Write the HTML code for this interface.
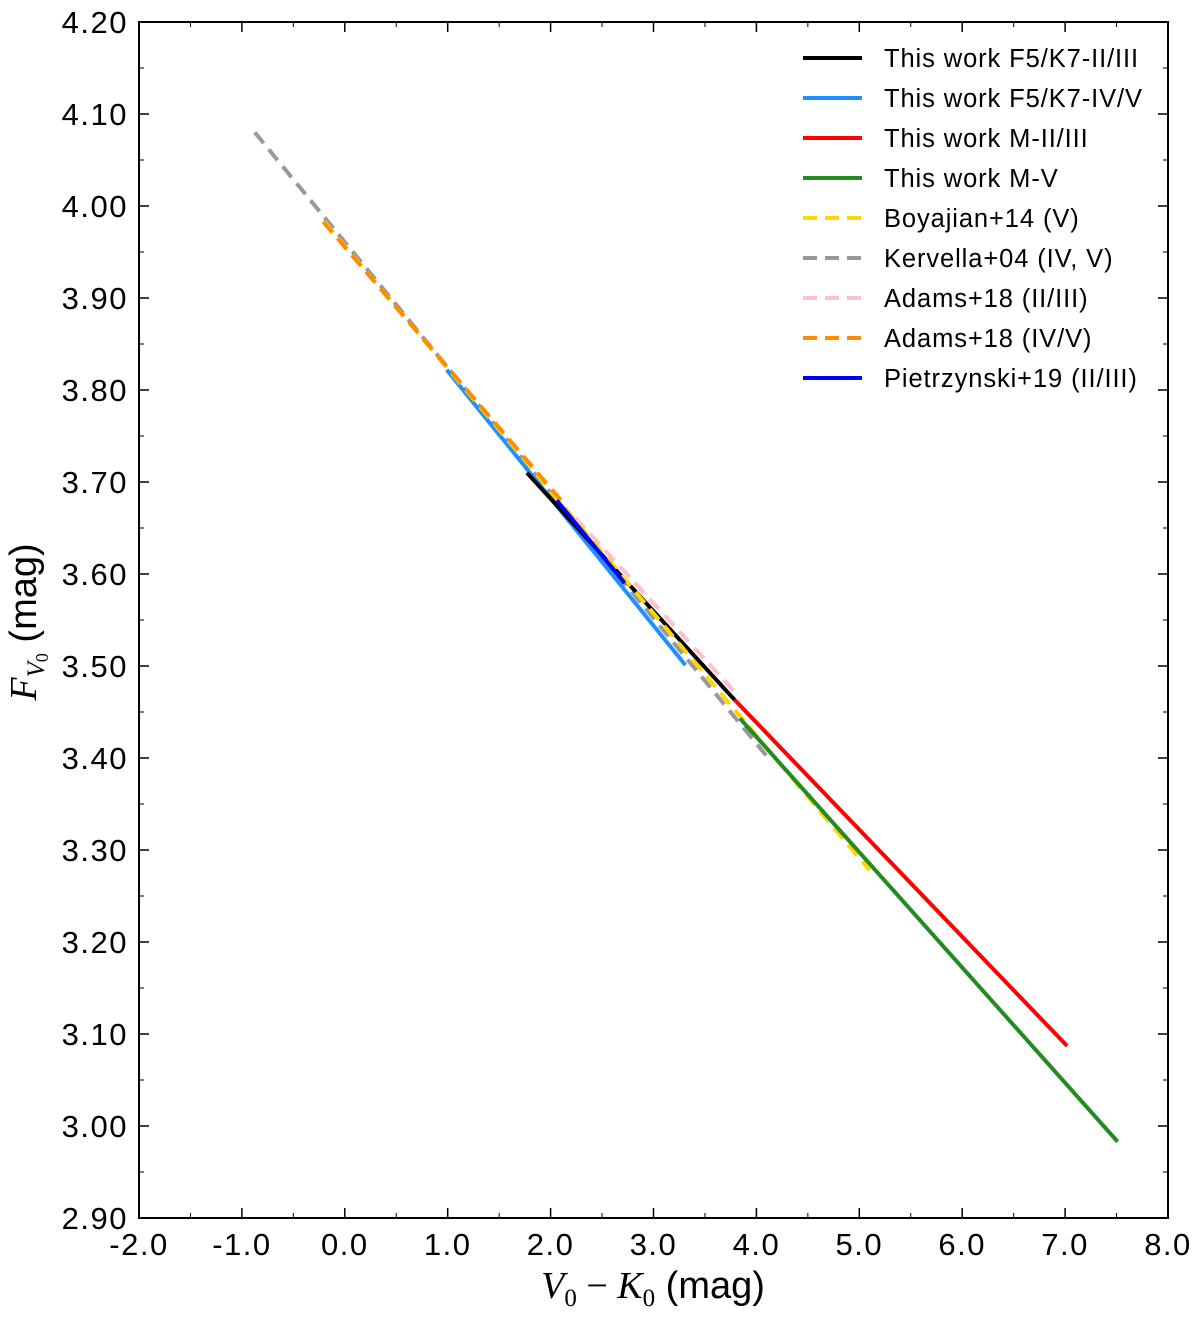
<!DOCTYPE html>
<html><head><meta charset="utf-8"><style>
body{margin:0;background:#fff}
svg{display:block;font-family:"Liberation Sans",sans-serif}
</style></head><body>
<svg id="c" width="1200" height="1319"></svg>
<script>
const xTicks=[-2,-1,0,1,2,3,4,5,6,7,8];
const yTicks=[2.9,3.0,3.1,3.2,3.3,3.4,3.5,3.6,3.7,3.8,3.9,4.0,4.1,4.2];
const seriesNames=["This work F5/K7-II/III","This work F5/K7-IV/V","This work M-II/III","This work M-V","Boyajian+14 (V)","Kervella+04 (IV, V)","Adams+18 (II/III)","Adams+18 (IV/V)","Pietrzynski+19 (II/III)"];
const seriesColors=["#000000","#1e90ff","#ff0000","#228b22","#ffd700","#999999","#ffc0cb","#ff8c00","#0000ff"];
const seriesDash=[false,false,false,false,true,true,true,true,false];
const seriesX=[[1.77,3.79],[0.99,3.31],[3.79,7.02],[3.84,7.51],[-0.2,5.10],[-0.875,4.13],[2.24,3.82],[-0.21,2.14],[2.06,2.72]];
const seriesY=[[3.710,3.463],[3.822,3.501],[3.463,3.087],[3.443,2.983],[3.983,3.278],[4.080,3.398],[3.661,3.468],[3.983,3.675],[3.680,3.590]];
const drawOrder=[5,1,0,6,4,7,8,3,2];
const L=139,R=1168,T=22,B=1218;
const X=v=>L+(v+2)/10*(R-L);
const Y=v=>B-(v-2.9)/1.3*(B-T);
const s=document.getElementById('c');const NS="http://www.w3.org/2000/svg";
function el(t,a,txt){const e=document.createElementNS(NS,t);for(const k in a)e.setAttribute(k,a[k]);if(txt!==undefined)e.textContent=txt;s.appendChild(e);return e;}
drawOrder.forEach(i=>{
 const e=el('line',{x1:X(seriesX[i][0]),y1:Y(seriesY[i][0]),x2:X(seriesX[i][1]),y2:Y(seriesY[i][1]),stroke:seriesColors[i],'stroke-width':4});
 if(seriesDash[i])e.setAttribute('stroke-dasharray','14,8');
 
 
});
const f=el('rect',{x:L,y:T,width:R-L,height:B-T,fill:'none',stroke:'#000','stroke-width':2});

xTicks.forEach(v=>{
 const x=X(v);
 el('line',{x1:x,y1:B,x2:x,y2:B-10,stroke:'#000','stroke-width':1.5});
 el('line',{x1:x,y1:T,x2:x,y2:T+10,stroke:'#000','stroke-width':1.5});
 if(v<8){const m=X(v+0.5);el('line',{x1:m,y1:B,x2:m,y2:B-5,stroke:'#000'});el('line',{x1:m,y1:T,x2:m,y2:T+5,stroke:'#000'});}
 const t=el('text',{x:x,y:B+37,'text-anchor':'middle','font-size':31,'letter-spacing':1.5},v.toFixed(1));
 
});
yTicks.forEach(v=>{
 const y=Y(v);
 el('line',{x1:L,y1:y,x2:L+10,y2:y,stroke:'#000','stroke-width':1.5});
 el('line',{x1:R,y1:y,x2:R-10,y2:y,stroke:'#000','stroke-width':1.5});
 if(v<4.15){const m=Y(v+0.05);el('line',{x1:L,y1:m,x2:L+5,y2:m,stroke:'#000'});el('line',{x1:R,y1:m,x2:R-5,y2:m,stroke:'#000'});}
 const t=el('text',{x:L-11,y:y+11,'text-anchor':'end','font-size':31,'letter-spacing':1.5},v.toFixed(2));
 
});
seriesNames.forEach((n,i)=>{
 const y=58+i*40;
 const ln=el('line',{x1:803,y1:y,x2:862,y2:y,stroke:seriesColors[i],'stroke-width':4});
 if(seriesDash[i])ln.setAttribute('stroke-dasharray','14,8');
 const t=el('text',{x:884,y:y+9,'font-size':25.5,'letter-spacing':0.9},n);
 
});
const xl=el('text',{x:653,y:1298,'text-anchor':'middle','font-size':38});
xl.innerHTML='<tspan font-family="Liberation Serif" font-style="italic">V</tspan><tspan font-family="Liberation Serif" font-size="25" dy="8">0</tspan><tspan dy="-8" font-family="Liberation Serif"> − </tspan><tspan font-family="Liberation Serif" font-style="italic">K</tspan><tspan font-family="Liberation Serif" font-size="25" dy="8">0</tspan><tspan dy="-8"> (mag)</tspan>';

const yl=el('text',{x:0,y:0,'text-anchor':'middle','font-size':38,transform:'translate(36,622) rotate(-90)'});
yl.innerHTML='<tspan font-family="Liberation Serif" font-style="italic">F</tspan><tspan font-family="Liberation Serif" font-style="italic" font-size="25" dy="8">V</tspan><tspan font-family="Liberation Serif" font-size="18" dy="4">0</tspan><tspan dy="-12"> (mag)</tspan>';

</script>
</body></html>
